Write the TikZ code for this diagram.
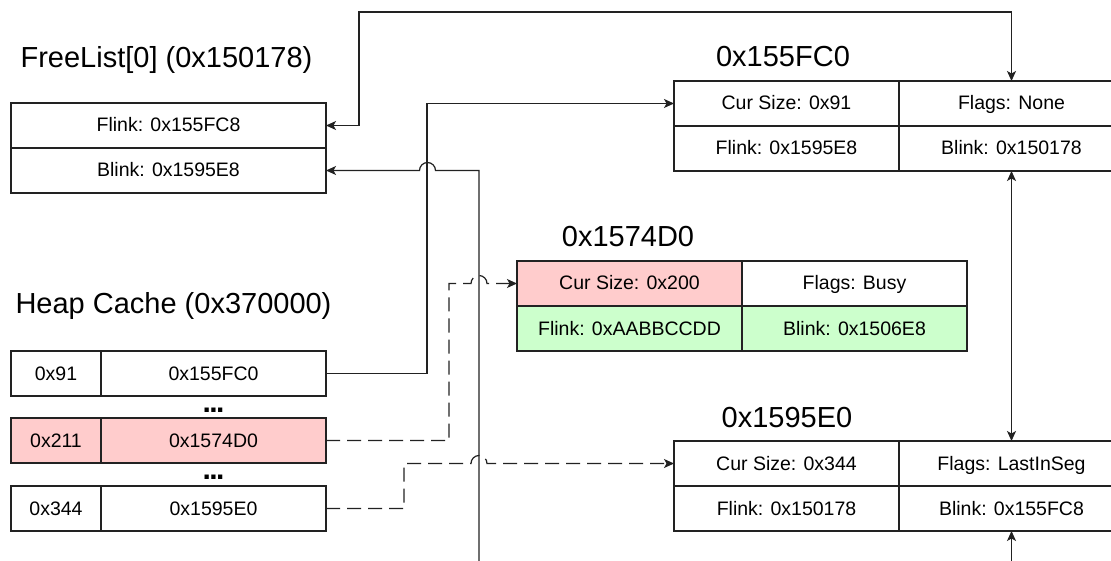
\documentclass[tikz,border=0pt]{standalone}
\usepackage{fontspec}
\setmainfont{Liberation Sans}
\usetikzlibrary{arrows.meta}

\definecolor{busyred}{HTML}{FFCCCC}
\definecolor{freegreen}{HTML}{CCFFCC}
\definecolor{edge}{HTML}{222222}

\tikzset{
  cell/.style={draw=edge, line width=1.2pt, minimum height=45, inner sep=0pt,
    outer sep=0pt, fill=white, text height=15.5pt, text depth=2.5pt,
    font=\fontsize{19.5}{23}\selectfont},
  wide/.style={cell, minimum width=315},
  half/.style={cell, minimum width=225},
  narrow/.style={cell, minimum width=90},
  busy/.style={fill=busyred},
  free/.style={fill=freegreen},
  heading/.style={anchor=base, inner sep=0pt, font=\fontsize{29}{34}\selectfont},
  gap/.style={anchor=base, inner sep=0pt, font=\bfseries\fontsize{30}{34}\selectfont},
  tip/.tip={Stealth[length=10pt, width=9pt, inset=2.5pt]},
  link/.style={draw=edge, line width=1.2pt, -tip},
  duallink/.style={draw=edge, line width=1.2pt, tip-tip},
  weaklink/.style={link, dash pattern=on 14pt off 7pt}
}

\newcommand{\tightdots}{.\kern-1.6pt.\kern-1.6pt.}

\begin{document}
\begin{tikzpicture}[x=1pt, y=-1pt]
  \useasboundingbox (0,0) rectangle (1111,561);
  \fill[white] (0,0) rectangle (1111,561);
  \clip (0,0) rectangle (1111,561);

  % FreeList[0] head
  \node[heading] (flT) at (166.5,68) {FreeList[0] (0x150178)};
  \node[wide] (flF) at (168.5,125.5) {Flink: 0x155FC8};
  \node[wide] (flB) at (168.5,170.5) {Blink: 0x1595E8};

  % Heap cache buckets
  \node[heading] (hcT) at (173.5,314) {Heap Cache (0x370000)};
  \node[narrow] (hc1a) at (56,373.5) {0x91};
  \node[half]   (hc1b) at (213.5,373.5) {0x155FC0};
  \node[gap]    (hcD1) at (213.5,412) {\tightdots};
  \node[narrow, busy] (hc2a) at (56,440.5) {0x211};
  \node[half, busy]   (hc2b) at (213.5,440.5) {0x1574D0};
  \node[gap]    (hcD2) at (213.5,479) {\tightdots};
  \node[narrow] (hc3a) at (56,508.5) {0x344};
  \node[half]   (hc3b) at (213.5,508.5) {0x1595E0};

  % Chunk 0x155FC0
  \node[heading] (fcT) at (783,67) {0x155FC0};
  \node[half] (fcS) at (786.5,103.5) {Cur Size: 0x91};
  \node[half] (fcF) at (1011.5,103.5) {Flags: None};
  \node[half] (fcL) at (786.5,148.5) {Flink: 0x1595E8};
  \node[half] (fcB) at (1011.5,148.5) {Blink: 0x150178};

  % Chunk 0x1574D0
  \node[heading] (bsT) at (628,247) {0x1574D0};
  \node[half, busy] (bsS) at (629.5,283.5) {Cur Size: 0x200};
  \node[half]       (bsF) at (854.5,283.5) {Flags: Busy};
  \node[half, free] (bsL) at (629.5,328.5) {Flink: 0xAABBCCDD};
  \node[half, free] (bsB) at (854.5,328.5) {Blink: 0x1506E8};

  % Chunk 0x1595E0
  \node[heading] (lsT) at (787,427) {0x1595E0};
  \node[half] (lsS) at (786.5,463.5) {Cur Size: 0x344};
  \node[half] (lsF) at (1011.5,463.5) {Flags: LastInSeg};
  \node[half] (lsL) at (786.5,508.5) {Flink: 0x150178};
  \node[half] (lsB) at (1011.5,508.5) {Blink: 0x155FC8};

  % loose ends running off the lower edge
  \coordinate (loose1) at (479,580);
  \coordinate (loose2) at (1011.5,580);

  % FreeList Flink <-> first chunk
  \draw[duallink] (flF.east) -| (359,12) -| (fcF.north);

  % incoming Blink to the FreeList head, hopping the cache link
  \draw[link] (loose1) -- (479,170.5) -- (435.5,170.5)
    arc[start angle=0, end angle=180, radius=8pt] -- (flB.east);

  % cache bucket 0x91 -> chunk 0x155FC0
  \draw[link] (hc1b.east) -| (427,103.5) -- (fcS.west);

  % chunk links along the right column
  \draw[duallink] (fcB.south) -- (lsF.north);
  \draw[link] (loose2) -- (lsB.south);

  % cache bucket 0x211 -> busy chunk
  \draw[weaklink] (hc2b.east) -| (449,283.5) -- (471,283.5)
    arc[start angle=180, end angle=0, radius=8pt] -- (bsS.west);

  % cache bucket 0x344 -> chunk 0x1595E0
  \draw[weaklink] (hc3b.east) -| (404,463.5) -- (471,463.5)
    arc[start angle=180, end angle=0, radius=8pt] -- (lsS.west);
\end{tikzpicture}
\end{document}
